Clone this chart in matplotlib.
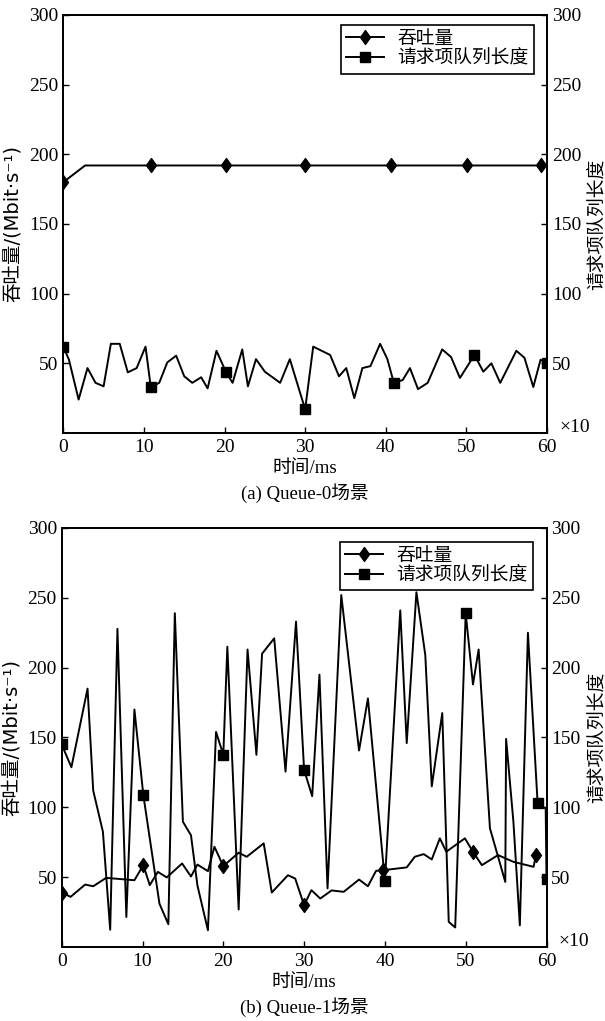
import matplotlib
matplotlib.use("Agg")
import matplotlib.pyplot as plt
from matplotlib.lines import Line2D
from matplotlib.path import Path

plt.rcParams['font.family'] = ['Liberation Serif', 'Noto Sans CJK SC', 'DejaVu Serif']
plt.rcParams['axes.unicode_minus'] = False

# ---------------- data ----------------
x_ticks = [0, 10, 20, 30, 40, 50, 60]
y_ticks = [50, 100, 150, 200, 250, 300]

# (a) Queue-0
thr_a_t = [0, 2.7, 10.85, 20.2, 30.0, 40.6, 50.1, 59.2]
thr_a_v = [180, 192, 192, 192, 192, 192, 192, 192]
thr_a_marks = [0, 2, 3, 4, 5, 6, 7]

que_a_t = [0, 0.7, 1.9, 3.0, 4.0, 5.0, 5.9, 7.0, 8.0, 9.1, 10.2, 10.85, 11.9, 12.9,
           14.0, 15.0, 16.0, 17.1, 17.9, 19.0, 20.2, 21.0, 22.2, 22.9, 23.9, 25.0,
           26.9, 28.1, 30.0, 31.0, 33.1, 34.2, 35.1, 36.1, 37.1, 38.1, 39.3, 40.2,
           41.0, 42.1, 43.0, 44.0, 45.2, 47.0, 48.1, 49.2, 51.0, 52.1, 53.1, 54.2,
           56.2, 57.2, 58.3, 59.2, 60.0]
que_a_v = [62, 52.6, 24, 46.6, 36, 33.5, 64, 64, 43.5, 46.6, 62, 33, 36, 50.7,
           55.5, 40.7, 36, 40, 32, 59, 43.5, 36, 60, 33.5, 53, 44,
           36, 53, 17, 62, 56, 40.7, 46.6, 25, 46.6, 48, 64, 53,
           36, 38, 46.6, 31.5, 36, 60, 54.5, 39.5, 56, 44, 50, 36,
           59, 54, 33, 52.6, 50]
que_a_marks = [0, 11, 20, 28, 38, 46, 54]

# (b) Queue-1
thr_b_t = [0, 1.1, 2.9, 3.9, 5.5, 9.0, 10.1, 10.9, 11.9, 13.0, 14.9, 16.0, 16.8,
           18.1, 18.9, 20.0, 21.9, 22.9, 25.0, 26.0, 28.0, 28.9, 30.0, 30.9, 32.0,
           33.4, 34.9, 36.8, 37.9, 38.9, 39.8, 42.7, 43.7, 44.8, 45.8, 46.8, 47.6,
           49.9, 50.9, 52.0, 54.0, 55.9, 58.4, 58.7]
thr_b_v = [39, 35.9, 44.7, 43.5, 49.5, 47.8, 58.6, 44.3, 53.8, 49.8, 59.8, 50.5, 59,
           54.3, 71.8, 57.9, 67.5, 64.6, 74.2, 39, 51.4, 49, 29.9, 40.7, 34.7,
           40.5, 39.5, 48.3, 43.5, 54.5, 55, 57, 64.6, 66.5, 62.7, 77.8, 68.2,
           77.8, 68.2, 58.6, 65.8, 61, 57.4, 65.8]
thr_b_marks = [0, 6, 15, 22, 30, 38, 43]

que_b_t = [0, 1.2, 3.2, 3.9, 5.1, 6.0, 6.9, 8.0, 9.0, 10.1, 12.1, 13.2, 14.0, 15.0,
           16.0, 16.8, 18.1, 19.1, 20.0, 20.5, 21.9, 23.0, 24.1, 24.8, 26.3, 27.7,
           29.0, 30.0, 31.0, 31.9, 32.9, 34.6, 36.8, 37.9, 40.0, 41.9, 42.7, 43.9,
           45.0, 45.8, 47.1, 47.9, 48.7, 50.0, 50.9, 51.6, 53.0, 54.9, 55.0, 55.9,
           56.7, 57.7, 58.9, 59.9, 60.0]
que_b_v = [145, 128.7, 185, 112, 82.5, 12.4, 227.8, 21.5, 170, 108.9, 31, 16.3, 239, 89.7,
           80, 44, 12, 154, 137.6, 215, 26.8, 213, 137.6, 210, 221, 125.6,
           233, 126.8, 108, 195, 42, 252, 140.7, 178, 47, 241, 146, 254,
           209, 115, 167.5, 18, 14, 239, 188, 213, 85, 46.6, 149, 90,
           15.5, 225, 103, 99, 49]
que_b_marks = [0, 9, 18, 27, 34, 43, 52, 54]

label_thr = '吞吐量'
label_que = '请求项队列长度'
ylabel_left = '吞吐量/(Mbit·s⁻¹)'
ylabel_right = '请求项队列长度'
xlabel = '时间/ms'
captions = ['(a) Queue-0场景', '(b) Queue-1场景']

# ---------------- style ----------------
W, H = 605, 1021
fig = plt.figure(figsize=(W / 100, H / 100), dpi=100)

diamond = Path([(0, 1), (0.72, 0), (0, -1), (-0.72, 0), (0, 1)],
               [Path.MOVETO, Path.LINETO, Path.LINETO, Path.LINETO, Path.CLOSEPOLY])
LW = 1.4
serif = ['Liberation Serif', 'Noto Sans CJK SC', 'DejaVu Serif']
sans = ['DejaVu Sans', 'Noto Sans CJK SC']


def px_axes(left, top, right, bottom):
    return fig.add_axes([left / W, 1 - bottom / H, (right - left) / W, (bottom - top) / H])


def panel(box, thr_t, thr_v, thr_m, que_t, que_v, que_m, legend_anchor, caption, cap_y):
    ax = px_axes(*box)
    ax2 = ax.twinx()
    ax.plot(thr_t, thr_v, color='black', lw=LW, marker=diamond, ms=10,
            markevery=thr_m, zorder=3)
    ax2.plot(que_t, que_v, color='black', lw=LW, marker='s', ms=7.2,
             markevery=que_m, zorder=3)
    for a in (ax, ax2):
        a.set_xlim(0, 60)
        a.set_ylim(0, 300)
        a.set_yticks(y_ticks)
        for s in a.spines.values():
            s.set_linewidth(1.3)
        a.tick_params(direction='in', length=4, width=1.0, labelsize=14, pad=3.5)
    ax.set_xticks(x_ticks)
    ax.tick_params(axis='x', pad=4)
    ax.set_xlabel(xlabel, fontsize=13.5, family=serif, labelpad=3)
    ax.set_ylabel(ylabel_left, fontsize=14, family=sans, labelpad=5)
    ax2.set_ylabel(ylabel_right, fontsize=13.5, family=serif, labelpad=6)
    ax2.text(1.025, 0.012, '×10', transform=ax2.transAxes, fontsize=14,
             ha='left', va='center')
    handles = [Line2D([], [], color='black', lw=LW, marker=diamond, ms=10),
               Line2D([], [], color='black', lw=LW, marker='s', ms=7.2)]
    leg = ax2.legend(handles, [label_thr, label_que], loc='upper right',
                     bbox_to_anchor=legend_anchor, borderaxespad=0, fontsize=13.5,
                     fancybox=False, edgecolor='black', framealpha=1,
                     handlelength=2.0, handletextpad=0.7, labelspacing=0.15,
                     borderpad=0.3)
    leg.get_frame().set_linewidth(1.2)
    fig.text((box[0] + box[2]) / 2 / W, 1 - cap_y / H, caption, fontsize=13.5,
             family=serif, ha='center', va='center')
    return ax


panel((63.3, 15, 547, 433), thr_a_t, thr_a_v, thr_a_marks,
      que_a_t, que_a_v, que_a_marks, (0.973, 0.976), captions[0], 493)
panel((61.7, 528, 546.5, 947), thr_b_t, thr_b_v, thr_b_marks,
      que_b_t, que_b_v, que_b_marks, (0.972, 0.967), captions[1], 1007)

fig.savefig('out.png', dpi=100, facecolor='white')
